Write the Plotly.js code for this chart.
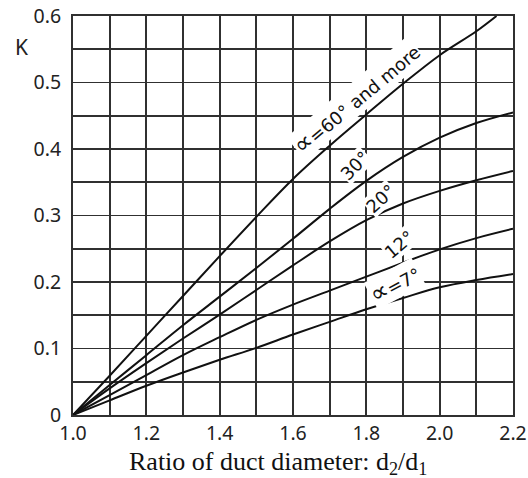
<!DOCTYPE html>
<html>
<head>
<meta charset="utf-8">
<script src="https://cdn.plot.ly/plotly-3.0.1.min.js"></script>
<style>
  html, body { margin: 0; padding: 0; background: #fff; }
  #chart { width: 528px; height: 478px; }
</style>
</head>
<body>
<div id="chart"></div>
<script>
// Ratio of duct diameter d2/d1
const xRatio = [1.0, 1.1, 1.2, 1.3, 1.4, 1.5, 1.6, 1.7, 1.8, 1.9, 2.0, 2.1, 2.2];
const xRatio60 = [1.0, 1.1, 1.2, 1.3, 1.4, 1.5, 1.6, 1.7, 1.8, 1.9, 2.0, 2.1, 2.155];

// Loss coefficient K for each divergence angle
const k7  = [0, 0.022, 0.044, 0.064, 0.083, 0.101, 0.121, 0.140, 0.159, 0.176, 0.192, 0.203, 0.212];
const k12 = [0, 0.030, 0.060, 0.090, 0.117, 0.143, 0.166, 0.187, 0.208, 0.229, 0.249, 0.266, 0.280];
const k20 = [0, 0.040, 0.078, 0.115, 0.151, 0.188, 0.225, 0.261, 0.293, 0.318, 0.337, 0.353, 0.367];
const k30 = [0, 0.045, 0.090, 0.135, 0.178, 0.221, 0.265, 0.310, 0.352, 0.388, 0.417, 0.439, 0.455];
const k60 = [0, 0.059, 0.119, 0.179, 0.239, 0.298, 0.355, 0.405, 0.452, 0.498, 0.541, 0.577, 0.600];

const alphaSym = '<span style="font-size:25px">∝</span>';
const seriesNames = [alphaSym + "=7°", "12°", "20°", "30°", alphaSym + "=60° and more"];
const xTitle = "Ratio of duct diameter: d<sub>2</sub>/d<sub>1</sub>";
const yTitle = "K";

const lineStyle = { color: "#111", width: 2, shape: "spline", smoothing: 1 };

const traces = [
  { x: xRatio, y: k7,  name: "∝=7°" },
  { x: xRatio, y: k12, name: "12°" },
  { x: xRatio, y: k20, name: "20°" },
  { x: xRatio, y: k30, name: "30°" },
  { x: xRatio60, y: k60, name: "∝=60° and more" }
].map(t => Object.assign(t, { type: "scatter", mode: "lines", line: lineStyle, hoverinfo: "skip" }));

const labelFont = { family: "DejaVu Sans, Noto Sans, sans-serif", size: 18, color: "#111" };
function curveLabel(text, x, y, angle) {
  return { text, x, y, xref: "x", yref: "y", xanchor: "center", yanchor: "middle",
           showarrow: false, textangle: angle, font: labelFont, bgcolor: "#fff", borderpad: 0 };
}

const gridCol = "#303030";
const tickFont = { family: "Noto Sans, DejaVu Sans, sans-serif", size: 19.5, color: "#222" };

const layout = {
  width: 528, height: 478,
  margin: { l: 73, r: 15, t: 16, b: 63, pad: 0 },
  paper_bgcolor: "#fff", plot_bgcolor: "#fff",
  showlegend: false,
  xaxis: {
    range: [1.0, 2.2], tick0: 1.0, dtick: 0.2, tickformat: ".1f",
    showgrid: true, gridcolor: gridCol, gridwidth: 1.8,
    minor: { dtick: 0.1, tick0: 1.0, showgrid: true, gridcolor: gridCol, gridwidth: 1.8 },
    showline: true, mirror: true, linecolor: gridCol, linewidth: 2,
    ticks: "", ticklabelstandoff: 0, zeroline: false,
    tickfont: tickFont
  },
  yaxis: {
    range: [0, 0.6], tick0: 0, dtick: 0.1,
    showgrid: true, gridcolor: gridCol, gridwidth: 1.8,
    minor: { dtick: 0.05, tick0: 0, showgrid: true, gridcolor: gridCol, gridwidth: 1.8 },
    showline: true, mirror: true, linecolor: gridCol, linewidth: 2,
    ticks: "", ticklabelstandoff: 6, zeroline: false,
    tickfont: tickFont
  },
  annotations: [
    curveLabel(seriesNames[4], 1.772, 0.476, -40),
    curveLabel(seriesNames[3], 1.769, 0.375, -45),
    curveLabel(seriesNames[2], 1.84, 0.325, -42),
    curveLabel(seriesNames[1], 1.889, 0.257, -40),
    curveLabel(seriesNames[0], 1.878, 0.198, -28),
    { text: yTitle, xref: "paper", yref: "paper", x: -0.116, y: 0.922,
      xanchor: "center", yanchor: "middle", showarrow: false,
      font: { family: "Noto Sans, DejaVu Sans, sans-serif", size: 21, color: "#222" } },
    { text: xTitle, xref: "paper", yref: "paper", x: 0.467, y: -0.12,
      xanchor: "center", yanchor: "middle", showarrow: false,
      font: { family: "Liberation Serif, Times New Roman, serif", size: 26, color: "#111" } }
  ]
};

Plotly.newPlot("chart", traces, layout, { staticPlot: true, displayModeBar: false });
</script>
</body>
</html>
